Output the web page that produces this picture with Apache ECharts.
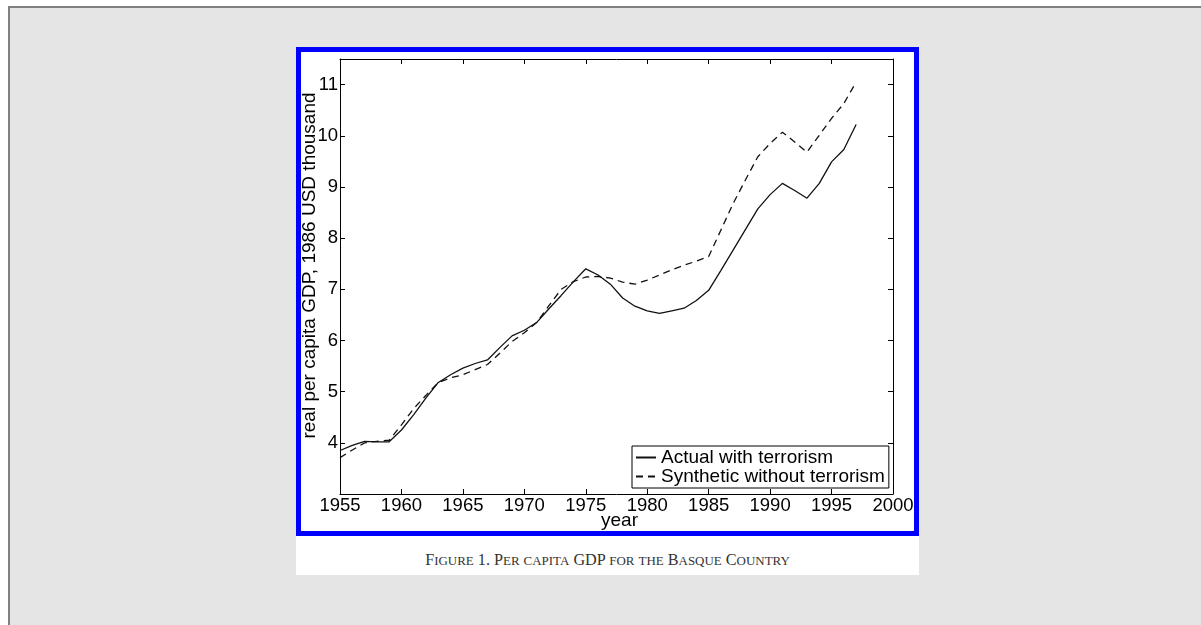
<!DOCTYPE html>
<html>
<head>
<meta charset="utf-8">
<script src="https://cdn.jsdelivr.net/npm/echarts@6/dist/echarts.min.js"></script>
<style>
html,body{margin:0;padding:0;background:#fff;width:1201px;height:625px;overflow:hidden;}
#page{position:absolute;left:8px;top:6px;width:1300px;height:700px;background:#e5e5e5;border-top:2px solid #808080;border-left:2px solid #808080;}
#frame{position:absolute;left:296px;top:47px;width:613px;height:479px;border:5px solid #0000ff;background:#fff;}
#capbox{position:absolute;left:296px;top:536px;width:623px;height:39px;background:#fff;}
#caption{position:absolute;left:296px;top:552px;width:623px;text-align:center;font-family:"Liberation Serif","DejaVu Serif",serif;font-size:16.2px;line-height:16px;color:#333;white-space:nowrap;}
#caption .sc{font-size:0.8em;}
#chart{position:absolute;left:0;top:0;width:1201px;height:625px;}
</style>
</head>
<body>
<div id="page"></div>
<div id="frame"></div>
<div id="capbox"></div>
<div id="caption"></div>
<div id="chart"></div>
<script>
// ---- data ----
const years = [1955,1956,1957,1958,1959,1960,1961,1962,1963,1964,1965,1966,1967,1968,1969,1970,
  1971,1972,1973,1974,1975,1976,1977,1978,1979,1980,1981,1982,1983,1984,1985,1986,1987,1988,
  1989,1990,1991,1992,1993,1994,1995,1996,1997];
const actual = [3.85,3.95,4.03,4.02,4.02,4.25,4.55,4.88,5.18,5.33,5.46,5.55,5.62,5.86,6.09,6.20,
  6.35,6.62,6.88,7.15,7.40,7.28,7.10,6.83,6.67,6.58,6.53,6.58,6.63,6.78,6.98,7.37,7.77,8.17,
  8.57,8.85,9.07,8.93,8.78,9.07,9.49,9.73,10.22];
const synthetic = [3.71,3.86,4.00,4.03,4.05,4.35,4.67,4.93,5.18,5.27,5.33,5.43,5.53,5.75,5.98,6.15,
  6.35,6.68,7.00,7.15,7.24,7.25,7.22,7.14,7.10,7.18,7.28,7.38,7.47,7.55,7.64,8.16,8.68,9.14,
  9.59,9.85,10.07,9.88,9.68,10.01,10.34,10.63,11.05];
const seriesNames = ['Actual with terrorism','Synthetic without terrorism'];
const xAxisName = 'year';
const yAxisName = 'real per capita GDP, 1986 USD thousand';
const yTickLabels = [4,5,6,7,8,9,10,11];
const captionText = 'Figure 1. Per capita GDP for the Basque Country';

// caption in small capitals (lowercase letters drawn as smaller capitals)
document.getElementById('caption').innerHTML = captionText.replace(/[a-z]+/g,
  m => '<span class="sc">' + m.toUpperCase() + '</span>');

const font = '"Liberation Sans", Arial, sans-serif';
const chart = echarts.init(document.getElementById('chart'), null, {renderer:'canvas'});

const axisLine = {show:true, onZero:false, lineStyle:{color:'#000', width:1}};
const axisTick = {show:true, inside:true, length:5, lineStyle:{color:'#000', width:1}};
const xBase = {type:'value', min:1955, max:2000, interval:5, splitLine:{show:false}, axisLine, axisTick};
const yBase = {type:'value', min:3, max:11.5, interval:1, splitLine:{show:false}, axisLine, axisTick};

chart.setOption({
  animation:false,
  backgroundColor:'transparent',
  grid:{left:340, top:59, width:553, height:435, show:false},
  xAxis:[
    Object.assign({}, xBase, {position:'bottom',
      axisLabel:{show:true, margin:2, color:'#000', fontSize:18.5, fontFamily:font,
        formatter: v => String(v)},
      name:xAxisName, nameLocation:'middle', nameGap:17, nameMoveOverlap:false,
      nameTextStyle:{color:'#000', fontSize:19, fontFamily:font, padding:[0,0,0,6]}}),
    Object.assign({}, xBase, {position:'top', axisLabel:{show:false}})
  ],
  yAxis:[
    Object.assign({}, yBase, {position:'left',
      axisLabel:{show:true, margin:2, color:'#000', fontSize:18.5, fontFamily:font,
        formatter: v => yTickLabels.indexOf(v) >= 0 ? String(v) : ''},
      name:yAxisName, nameLocation:'middle', nameGap:21, nameMoveOverlap:false,
      nameTextStyle:{color:'#000', fontSize:19, fontFamily:font, padding:[0,0,0,22]}}),
    Object.assign({}, yBase, {position:'right', axisLabel:{show:false}})
  ],
  legend:{
    left:632, top:446, orient:'vertical',
    itemWidth:20, itemHeight:12, itemGap:0,
    padding:[2,4,2,3],
    borderColor:'#000', borderWidth:1, backgroundColor:'#fff',
    textStyle:{fontSize:19, color:'#000', fontFamily:font, lineHeight:17},
    itemStyle:{opacity:0},
    data:seriesNames
  },
  series:[
    {name:seriesNames[0], type:'line', symbol:'none', showSymbol:false,
     data: years.map((y,i)=>[y, actual[i]]),
     lineStyle:{color:'#111', width:1.3, type:'solid'}, itemStyle:{color:'#111'}},
    {name:seriesNames[1], type:'line', symbol:'none', showSymbol:false,
     data: years.map((y,i)=>[y, synthetic[i]]),
     lineStyle:{color:'#111', width:1.3, type:[7,5]}, itemStyle:{color:'#111'}}
  ]
});
</script>
</body>
</html>
